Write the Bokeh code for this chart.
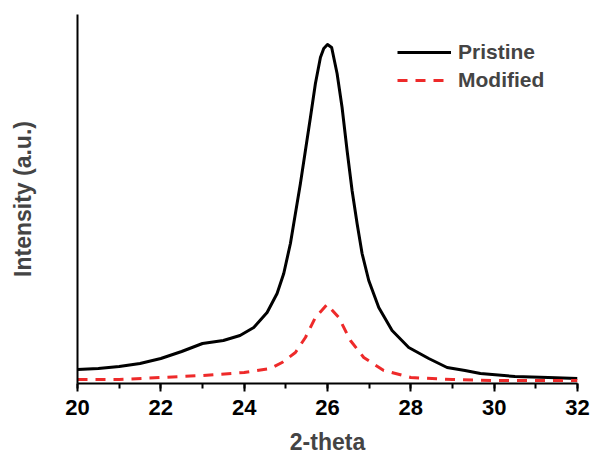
from bokeh.plotting import figure
from bokeh.models import Range1d, SingleIntervalTicker, FixedTicker, Legend, LegendItem
from bokeh.embed import file_html
from bokeh.resources import INLINE

# Data (2-theta in degrees, intensity in arbitrary units)
pristine_x = [20.0, 20.5, 21.0, 21.5, 22.0, 22.5, 23.0, 23.5, 23.9, 24.23, 24.55, 24.79,
              24.95, 25.11, 25.23, 25.35, 25.47, 25.59, 25.71, 25.83, 25.91, 26.0, 26.1,
              26.23, 26.35, 26.47, 26.59, 26.71, 26.83, 26.99, 27.23, 27.55, 27.95,
              28.43, 28.87, 29.3, 29.67, 30.5, 31.3, 32.0]
pristine_y = [14, 15, 17, 20, 25, 32, 40, 43, 48, 56, 71, 90,
              110, 140, 170, 200, 233, 266, 300, 326, 335, 339, 336,
              310, 276, 233, 193, 160, 130, 103, 76, 53, 36,
              25, 16, 13, 10, 7, 6, 5]

modified_x = [20.0, 21.0, 22.0, 23.0, 24.0, 24.63, 24.91, 25.23, 25.47, 25.71, 25.99,
              26.27, 26.55, 26.87, 27.35, 28.0, 29.0, 30.0, 31.0, 32.0]
modified_y = [4, 4, 6, 8, 11, 15, 21, 31, 46, 66, 79,
              66, 43, 26, 13, 6, 4, 3, 3, 3]

x_ticks_interval = 2
x_start, x_end = 20, 32
y_start, y_end = 0, 369
x_title = "2-theta"
y_title = "Intensity (a.u.)"

FONT = "Liberation Sans"

p = figure(width=592, height=457, output_backend="svg", toolbar_location=None,
           x_range=Range1d(x_start, x_end), y_range=Range1d(y_start, y_end),
           min_border_left=77, min_border_right=15, min_border_top=14, min_border_bottom=74)
p.outline_line_color = None
p.xgrid.visible = False
p.ygrid.visible = False
p.background_fill_color = "white"
p.border_fill_color = "white"

r1 = p.line(pristine_x, pristine_y, line_color="black", line_width=3, line_join="round")
r2 = p.line(modified_x, modified_y, line_color="#ee2a2a", line_width=3, line_dash="10 8")

xa = p.xaxis[0]
xa.ticker = SingleIntervalTicker(interval=x_ticks_interval, num_minor_ticks=2)
xa.axis_line_width = 2
xa.major_tick_line_width = 2
xa.minor_tick_line_width = 2
xa.major_tick_out = 8
xa.major_tick_in = 0
xa.minor_tick_out = 5
xa.minor_tick_in = 0
xa.major_label_text_font = FONT
xa.major_label_text_font_size = "22px"
xa.major_label_text_font_style = "bold"
xa.major_label_text_color = "black"
xa.major_label_standoff = 8
xa.axis_label = x_title
xa.axis_label_text_font = FONT
xa.axis_label_text_font_size = "23px"
xa.axis_label_text_font_style = "bold"
xa.axis_label_standoff = 11

ya = p.yaxis[0]
ya.ticker = FixedTicker(ticks=[])
ya.axis_line_width = 2
ya.major_tick_line_color = None
ya.minor_tick_line_color = None
ya.major_label_text_font_size = "0px"
ya.axis_label = y_title
ya.axis_label_text_font = FONT
ya.axis_label_text_font_size = "23px"
ya.axis_label_text_font_style = "bold"
ya.axis_label_standoff = 42

legend = Legend(items=[LegendItem(label="Pristine", renderers=[r1]),
                       LegendItem(label="Modified", renderers=[r2])],
                location=(320, 291))
legend.border_line_color = None
legend.background_fill_alpha = 0
legend.padding = 0
legend.margin = 0
legend.spacing = 4
legend.glyph_width = 54
legend.glyph_height = 24
legend.label_height = 24
legend.label_standoff = 7
legend.label_text_font = FONT
legend.label_text_font_size = "21px"
legend.label_text_font_style = "bold"
p.add_layout(legend)

open("out.html", "w").write(file_html(p, INLINE))
